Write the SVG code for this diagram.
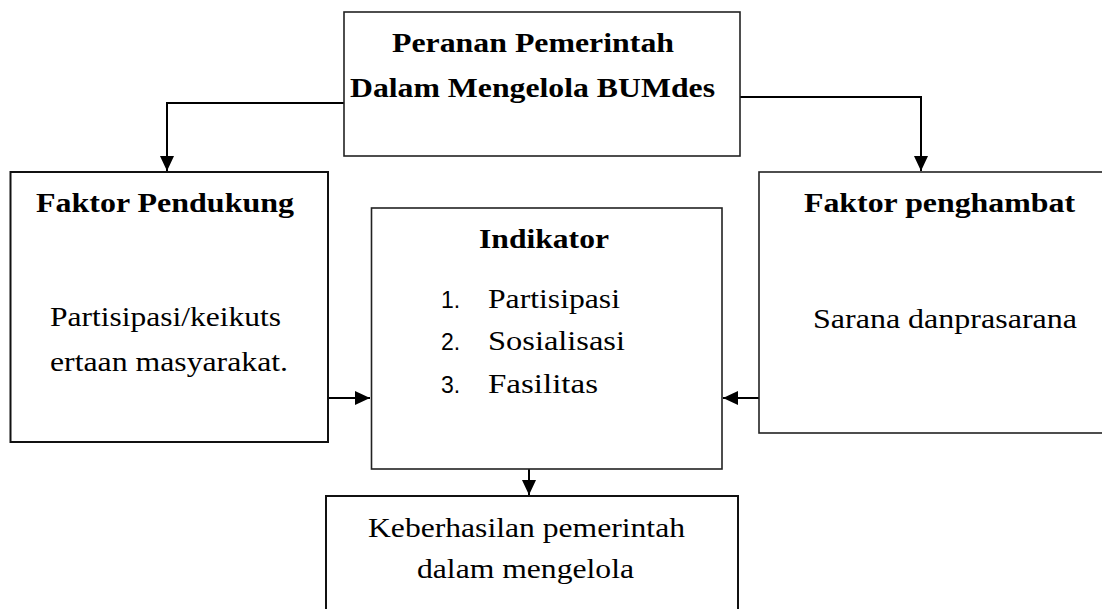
<svg xmlns="http://www.w3.org/2000/svg" width="1102" height="609" viewBox="0 0 1102 609">
<style>
.box{fill:#ffffff;stroke:#222222;stroke-width:1.6}
.thick{stroke:#111111;stroke-width:2}
.t{font-family:'Liberation Serif','Times New Roman',serif;font-size:27px;fill:#000000}
.b{font-weight:bold}
.n{font-family:'Liberation Sans',Arial,sans-serif;font-size:23px;fill:#000000}
.c{fill:none;stroke:#000000;stroke-width:2}
</style>
<defs>
<marker id="ah" markerUnits="userSpaceOnUse" markerWidth="16" markerHeight="16" viewBox="0 0 16 16" refX="15" refY="8" orient="auto">
<path d="M0,1 L15,8 L0,15 Z" fill="#000000"/>
</marker>
</defs>
<rect width="1102" height="609" fill="#ffffff"/>
<g id="connectors">
<path class="c" d="M344,103 H167 V171" marker-end="url(#ah)"/>
<path class="c" d="M740,97 H921 V171" marker-end="url(#ah)"/>
<path class="c" d="M328,398 H370" marker-end="url(#ah)"/>
<path class="c" d="M759,398 H723" marker-end="url(#ah)"/>
<path class="c" d="M529,462 V495" marker-end="url(#ah)"/>
</g>
<g id="node-peranan">
<rect class="box" x="344" y="12" width="396" height="144"/>
<text class="t b" x="392" y="52" textLength="282" lengthAdjust="spacingAndGlyphs">Peranan Pemerintah</text>
<text class="t b" x="350" y="97" textLength="365" lengthAdjust="spacingAndGlyphs">Dalam Mengelola BUMdes</text>
</g>
<g id="node-pendukung">
<rect class="box thick" x="10.5" y="172" width="317.5" height="270"/>
<text class="t b" x="36" y="212" textLength="258" lengthAdjust="spacingAndGlyphs">Faktor Pendukung</text>
<text class="t" x="50" y="326" textLength="231" lengthAdjust="spacingAndGlyphs">Partisipasi/keikuts</text>
<text class="t" x="50" y="371" textLength="238" lengthAdjust="spacingAndGlyphs">ertaan masyarakat.</text>
</g>
<g id="node-indikator">
<rect class="box" x="371.5" y="208" width="350.5" height="261"/>
<text class="t b" x="479" y="248" textLength="130" lengthAdjust="spacingAndGlyphs">Indikator</text>
<text class="n" x="441" y="308">1.</text>
<text class="t" x="488" y="308" textLength="132" lengthAdjust="spacingAndGlyphs">Partisipasi</text>
<text class="n" x="441" y="350">2.</text>
<text class="t" x="488" y="350" textLength="137" lengthAdjust="spacingAndGlyphs">Sosialisasi</text>
<text class="n" x="441" y="393">3.</text>
<text class="t" x="488" y="393" textLength="110" lengthAdjust="spacingAndGlyphs">Fasilitas</text>
</g>
<g id="node-penghambat">
<rect class="box" x="759" y="172" width="360" height="261"/>
<text class="t b" x="804" y="212" textLength="271" lengthAdjust="spacingAndGlyphs">Faktor penghambat</text>
<text class="t" x="813" y="328" textLength="264" lengthAdjust="spacingAndGlyphs">Sarana danprasarana</text>
</g>
<g id="node-keberhasilan">
<rect class="box thick" x="326" y="496" width="412" height="130"/>
<text class="t" x="368" y="537" textLength="317" lengthAdjust="spacingAndGlyphs">Keberhasilan pemerintah</text>
<text class="t" x="417" y="578" textLength="217" lengthAdjust="spacingAndGlyphs">dalam mengelola</text>
</g>
</svg>
